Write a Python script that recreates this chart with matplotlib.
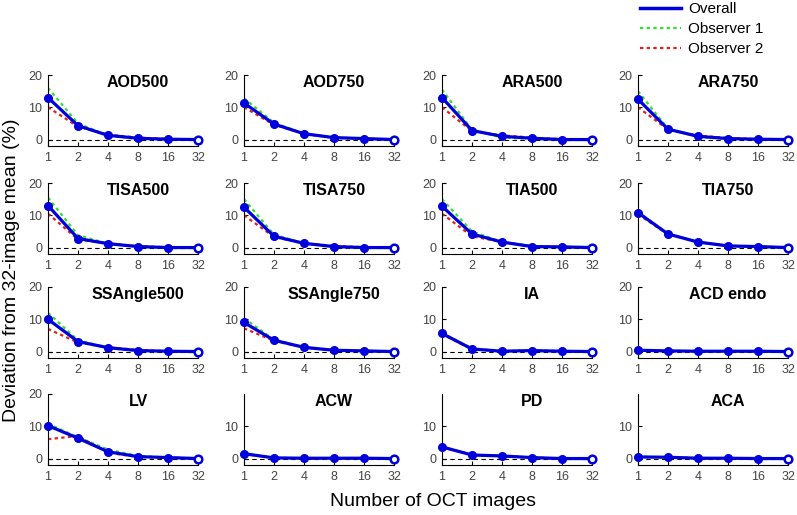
import numpy as np
import matplotlib
matplotlib.use("Agg")
import matplotlib.pyplot as plt
from matplotlib.lines import Line2D

plt.rcParams['font.family'] = ['Liberation Sans', 'DejaVu Sans']

n_images = [1, 2, 4, 8, 16, 32]
tick_labels = ['1', '2', '4', '8', '16', '32']

names = ['AOD500', 'AOD750', 'ARA500', 'ARA750',
         'TISA500', 'TISA750', 'TIA500', 'TIA750',
         'SSAngle500', 'SSAngle750', 'IA', 'ACD endo',
         'LV', 'ACW', 'PD', 'ACA']

overall = [
    [13.0, 4.3, 1.3, 0.4, 0.1, 0.0],
    [11.3, 4.8, 1.8, 0.6, 0.3, 0.0],
    [13.0, 2.8, 1.0, 0.4, 0.0, 0.0],
    [12.5, 3.2, 1.0, 0.3, 0.1, 0.0],
    [13.0, 2.8, 1.2, 0.3, 0.0, 0.0],
    [12.5, 3.5, 1.3, 0.3, 0.0, 0.0],
    [12.8, 4.2, 1.7, 0.3, 0.2, 0.0],
    [10.8, 4.2, 1.7, 0.5, 0.3, 0.0],
    [10.0, 3.1, 1.2, 0.3, 0.1, 0.0],
    [9.0, 3.5, 1.3, 0.4, 0.2, 0.0],
    [5.6, 0.8, 0.1, 0.3, 0.1, 0.0],
    [0.4, 0.2, 0.1, 0.1, 0.1, 0.0],
    [10.2, 6.3, 2.1, 0.6, 0.3, 0.0],
    [1.5, 0.2, 0.1, 0.1, 0.1, 0.0],
    [3.6, 1.1, 0.8, 0.3, 0.0, 0.0],
    [0.5, 0.4, 0.1, 0.1, 0.0, 0.0],
]
observer1 = [
    [16.0, 5.0, 1.2, 0.2, 0.1, 0.0],
    [12.8, 5.2, 1.8, 0.5, 0.3, 0.0],
    [15.5, 3.0, 0.6, 0.2, 0.0, 0.0],
    [15.0, 3.3, 0.8, 0.2, 0.1, 0.0],
    [15.5, 3.8, 1.2, 0.3, 0.0, 0.0],
    [15.0, 4.0, 1.3, 0.2, 0.0, 0.0],
    [15.0, 5.0, 1.7, 0.3, 0.2, 0.0],
    [11.0, 4.3, 1.7, 0.5, 0.3, 0.0],
    [12.0, 3.5, 1.1, 0.2, 0.1, 0.0],
    [10.3, 3.7, 1.3, 0.4, 0.2, 0.0],
    [5.8, 0.9, 0.1, 0.3, 0.1, 0.0],
    [0.4, 0.2, 0.1, 0.1, 0.1, 0.0],
    [10.8, 6.6, 2.8, 0.8, 0.3, 0.0],
    [1.6, 0.2, 0.1, 0.1, 0.1, 0.0],
    [3.7, 1.1, 0.8, 0.3, 0.0, 0.0],
    [0.5, 0.4, 0.1, 0.1, 0.0, 0.0],
]
observer2 = [
    [10.0, 4.0, 1.5, 0.6, 0.2, 0.0],
    [10.0, 4.6, 1.8, 0.6, 0.3, 0.0],
    [10.0, 2.6, 1.3, 0.6, 0.1, 0.0],
    [10.0, 3.1, 1.2, 0.5, 0.1, 0.0],
    [10.5, 2.5, 1.3, 0.4, 0.1, 0.0],
    [10.0, 3.3, 1.3, 0.5, 0.1, 0.0],
    [10.5, 3.5, 1.7, 0.4, 0.2, 0.0],
    [10.3, 4.1, 1.7, 0.5, 0.3, 0.0],
    [7.0, 2.8, 1.3, 0.5, 0.1, 0.0],
    [7.2, 3.3, 1.3, 0.4, 0.2, 0.0],
    [5.4, 0.7, 0.1, 0.3, 0.1, 0.0],
    [0.4, 0.2, 0.1, 0.1, 0.1, 0.0],
    [6.0, 7.0, 1.8, 0.5, 0.3, 0.0],
    [1.4, 0.2, 0.1, 0.1, 0.1, 0.0],
    [3.5, 1.1, 0.8, 0.3, 0.0, 0.0],
    [0.5, 0.4, 0.1, 0.1, 0.0, 0.0],
]

W, H = 797, 515
fig = plt.figure(figsize=(W / 100, H / 100), dpi=100)

col_left = [48, 244, 442, 638]
row_top = [75, 183, 287, 394]
ax_w, ax_h = 150, 71

for i, name in enumerate(names):
    r, c = divmod(i, 4)
    ax = fig.add_axes([col_left[c] / W, 1 - (row_top[r] + ax_h) / H, ax_w / W, ax_h / H])
    ax.set_xscale('log', base=2)
    ax.axhline(0, color='black', lw=0.8, ls=(0, (4, 3)), zorder=1)
    ax.plot(n_images, observer1[i], color='#33dd33', lw=1.6, ls=(0, (1.5, 1.5)), zorder=2)
    ax.plot(n_images, observer2[i], color='#e02020', lw=1.6, ls=(0, (1.5, 1.5)), zorder=2)
    ax.plot(n_images, overall[i], color='#0000dd', lw=2.3, marker='o', ms=5.5,
            zorder=3, clip_on=False)
    ax.plot(n_images[-1], overall[i][-1], color='#0000dd', marker='o', ms=5.5,
            mfc='white', mew=1.8, zorder=4, clip_on=False)
    ax.set_xlim(1, 32)
    ax.set_ylim(-2, 20)
    ax.set_xticks(n_images)
    ax.set_xticklabels(tick_labels)
    ax.minorticks_off()
    if r == 3 and c > 0:
        ax.set_yticks([0, 10])
    else:
        ax.set_yticks([0, 10, 20])
    ax.spines['top'].set_visible(False)
    ax.spines['right'].set_visible(False)
    ax.tick_params(direction='in', length=3, labelsize=9, labelcolor='#444444', pad=4)
    ax.text(0.6, 1.0, name, transform=ax.transAxes, ha='center', va='top',
            fontsize=11.5, fontweight='bold')

fig.text(12 / W, 1 - 270 / H, 'Deviation from 32-image mean (%)', rotation=90,
         ha='center', va='center', fontsize=14)
fig.text(433 / W, 1 - 502 / H, 'Number of OCT images', ha='center', va='center', fontsize=14)

handles = [
    Line2D([], [], color='#0000dd', lw=2.5),
    Line2D([], [], color='#33dd33', lw=1.6, ls=(0, (1.5, 1.5))),
    Line2D([], [], color='#e02020', lw=1.6, ls=(0, (1.5, 1.5))),
]
fig.legend(handles, ['Overall', 'Observer 1', 'Observer 2'], loc='upper left',
           bbox_to_anchor=(640 / W, 1 - 2 / H), frameon=False, fontsize=11,
           handlelength=2.7, labelspacing=0.4, handletextpad=0.45, borderpad=0,
           borderaxespad=0)

fig.savefig('out.png', dpi=100)
